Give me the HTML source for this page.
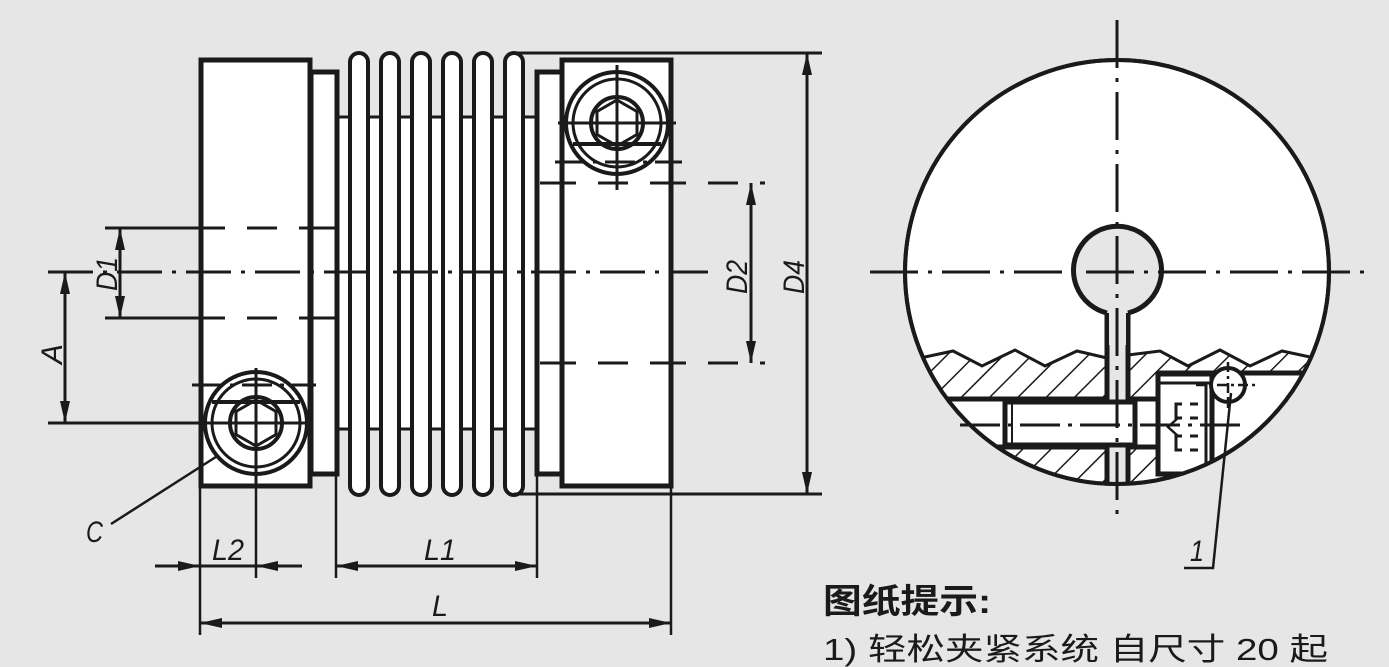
<!DOCTYPE html>
<html><head><meta charset="utf-8">
<style>
html,body{margin:0;padding:0;background:#e6e6e6;}
svg{display:block;}
text{font-family:"Liberation Sans","Noto Sans CJK SC",sans-serif;fill:#1a1a1a;}
</style></head>
<body>
<svg width="1389" height="667" viewBox="0 0 1389 667" xmlns="http://www.w3.org/2000/svg">
<defs>
<marker id="ar" viewBox="0 0 22 10" refX="22" refY="5" markerWidth="22" markerHeight="10" markerUnits="userSpaceOnUse" orient="auto">
<path d="M0,0 L22,5 L0,10 z" fill="#1a1a1a"/>
</marker>
<pattern id="hatch" patternUnits="userSpaceOnUse" width="20" height="20" patternTransform="rotate(45)">
<rect width="20" height="20" fill="#fff"/>
<line x1="0" y1="0" x2="0" y2="20" stroke="#1a1a1a" stroke-width="3"/>
</pattern>
<clipPath id="cc"><circle cx="1117" cy="272" r="212"/></clipPath>
</defs>
<rect width="1389" height="667" fill="#e6e6e6"/>

<g stroke="#1a1a1a" fill="none" stroke-linecap="butt">
<rect x="337" y="116" width="200" height="314" fill="#fff" stroke="none"/>
<line x1="337" y1="117" x2="540" y2="117" stroke-width="3"/>
<line x1="337" y1="429" x2="540" y2="429" stroke-width="3"/>
<g stroke-width="4" fill="#fff">
<rect x="350" y="53" width="18" height="442" rx="9"/>
<rect x="381" y="53" width="18" height="442" rx="9"/>
<rect x="412" y="53" width="18" height="442" rx="9"/>
<rect x="443" y="53" width="18" height="442" rx="9"/>
<rect x="474" y="53" width="18" height="442" rx="9"/>
<rect x="505" y="53" width="18" height="442" rx="9"/>
</g>
<rect x="311" y="72" width="26" height="402" fill="#fff" stroke-width="5"/>
<rect x="537" y="72" width="25" height="402" fill="#fff" stroke-width="5"/>
<rect x="201" y="60" width="109" height="426" fill="#fff" stroke-width="5"/>
<rect x="562" y="60" width="109" height="426" fill="#fff" stroke-width="5"/>

<line x1="514" y1="53" x2="822" y2="53" stroke-width="3"/>
<line x1="514" y1="494" x2="822" y2="494" stroke-width="3"/>

<line x1="48" y1="272" x2="708" y2="272" stroke-width="3" stroke-dasharray="45,10,4,10"/>
<line x1="105" y1="228" x2="337" y2="228" stroke-width="3" stroke-dasharray="120,22,30,22"/>
<line x1="105" y1="318" x2="337" y2="318" stroke-width="3" stroke-dasharray="120,22,30,22"/>
<line x1="540" y1="183" x2="765" y2="183" stroke-width="3" stroke-dasharray="36,22,30,22"/>
<line x1="540" y1="363" x2="765" y2="363" stroke-width="3" stroke-dasharray="36,22,30,22"/>
<line x1="48" y1="423" x2="311" y2="423" stroke-width="3"/>

<line x1="120" y1="270" x2="120" y2="228" stroke-width="3" marker-end="url(#ar)"/>
<line x1="120" y1="270" x2="120" y2="318" stroke-width="3" marker-end="url(#ar)"/>
<line x1="65" y1="340" x2="65" y2="272" stroke-width="3" marker-end="url(#ar)"/>
<line x1="65" y1="340" x2="65" y2="423" stroke-width="3" marker-end="url(#ar)"/>
<line x1="751" y1="270" x2="751" y2="183" stroke-width="3" marker-end="url(#ar)"/>
<line x1="751" y1="270" x2="751" y2="363" stroke-width="3" marker-end="url(#ar)"/>
<line x1="807" y1="270" x2="807" y2="53" stroke-width="3" marker-end="url(#ar)"/>
<line x1="807" y1="270" x2="807" y2="494" stroke-width="3" marker-end="url(#ar)"/>

<line x1="200" y1="486" x2="200" y2="635" stroke-width="2.5"/>
<line x1="256" y1="370" x2="256" y2="578" stroke-width="2.5"/>
<line x1="336" y1="474" x2="336" y2="578" stroke-width="2.5"/>
<line x1="537" y1="474" x2="537" y2="578" stroke-width="2.5"/>
<line x1="671" y1="486" x2="671" y2="635" stroke-width="2.5"/>
<line x1="155" y1="566" x2="200" y2="566" stroke-width="3" marker-end="url(#ar)"/>
<line x1="302" y1="566" x2="256" y2="566" stroke-width="3" marker-end="url(#ar)"/>
<line x1="200" y1="566" x2="256" y2="566" stroke-width="3"/>
<line x1="436" y1="566" x2="336" y2="566" stroke-width="3" marker-end="url(#ar)"/>
<line x1="436" y1="566" x2="537" y2="566" stroke-width="3" marker-end="url(#ar)"/>
<line x1="436" y1="623" x2="200" y2="623" stroke-width="3" marker-end="url(#ar)"/>
<line x1="436" y1="623" x2="671" y2="623" stroke-width="3" marker-end="url(#ar)"/>
<line x1="111" y1="524" x2="233" y2="446" stroke-width="2.5"/>

<circle cx="256" cy="423" r="51" stroke-width="4" fill="#fff"/>
<circle cx="256" cy="423" r="44" stroke-width="3"/>
<line x1="212" y1="402" x2="300" y2="402" stroke-width="4"/>
<line x1="192" y1="385" x2="316" y2="385" stroke-width="3" stroke-dasharray="30,8,4,8"/>
<circle cx="256" cy="423" r="26" stroke-width="4"/>
<polygon points="256,400 276,411.5 276,434.5 256,446 236,434.5 236,411.5" stroke-width="3"/>
<line x1="192" y1="423" x2="310" y2="423" stroke-width="3"/>
<line x1="256" y1="368" x2="256" y2="486" stroke-width="3"/>

<circle cx="617" cy="123" r="51" stroke-width="4" fill="#fff"/>
<circle cx="617" cy="123" r="44" stroke-width="3"/>
<line x1="573" y1="144" x2="661" y2="144" stroke-width="4"/>
<line x1="555" y1="162" x2="682" y2="162" stroke-width="3" stroke-dasharray="30,8,4,8"/>
<circle cx="617" cy="123" r="26" stroke-width="4"/>
<polygon points="617,100 637,111.5 637,134.5 617,146 597,134.5 597,111.5" stroke-width="3"/>
<line x1="558" y1="123" x2="676" y2="123" stroke-width="3"/>
<line x1="617" y1="65" x2="617" y2="190" stroke-width="3"/>
</g>

<g font-style="italic" font-size="30">
<text x="86" y="542" textLength="17" lengthAdjust="spacingAndGlyphs">C</text>
<text x="212" y="560" textLength="32" lengthAdjust="spacingAndGlyphs">L2</text>
<text x="424" y="560" textLength="32" lengthAdjust="spacingAndGlyphs">L1</text>
<text x="432" y="616" textLength="16" lengthAdjust="spacingAndGlyphs">L</text>
<text transform="translate(117,291) rotate(-90)" textLength="34" lengthAdjust="spacingAndGlyphs">D1</text>
<text transform="translate(62,364) rotate(-90)" textLength="20" lengthAdjust="spacingAndGlyphs">A</text>
<text transform="translate(747,294) rotate(-90)" textLength="34" lengthAdjust="spacingAndGlyphs">D2</text>
<text transform="translate(804,294) rotate(-90)" textLength="34" lengthAdjust="spacingAndGlyphs">D4</text>
<text x="1190" y="561" textLength="14" lengthAdjust="spacingAndGlyphs">1</text>
</g>

<g stroke="#1a1a1a" fill="none">
<circle cx="1117" cy="272" r="212" fill="#fff" stroke-width="4"/>
<g clip-path="url(#cc)">
<polygon points="900,360 925,357 953,351 982,366 1015,350 1045,366 1077,351 1107,358 1107,398 900,398" fill="url(#hatch)" stroke="none"/>
<polygon points="1128,355 1160,351 1188,366 1220,350 1250,366 1282,351 1310,357 1340,357 1340,373 1157,373 1157,398 1128,398" fill="url(#hatch)" stroke="none"/>
<polyline points="900,360 925,357 953,351 982,366 1015,350 1045,366 1077,351 1107,358" stroke-width="3"/>
<polyline points="1128,355 1160,351 1188,366 1220,350 1250,366 1282,351 1310,357 1340,357" stroke-width="3"/>
<rect x="900" y="448" width="207" height="60" fill="url(#hatch)" stroke="none"/>
<rect x="1128" y="448" width="29" height="60" fill="url(#hatch)" stroke="none"/>
<rect x="945" y="400" width="212" height="47" fill="#fff" stroke="none"/>
<line x1="900" y1="399" x2="1157" y2="399" stroke-width="5"/>
<line x1="900" y1="447" x2="1157" y2="447" stroke-width="5"/>
<line x1="1157" y1="373" x2="1340" y2="373" stroke-width="5"/>
<rect x="1107" y="340" width="21" height="180" fill="#e6e6e6" stroke="none"/>
<line x1="1107" y1="310" x2="1107" y2="490" stroke-width="5"/>
<line x1="1128" y1="310" x2="1128" y2="490" stroke-width="5"/>
<rect x="1005" y="402" width="130" height="43" fill="#fff" stroke-width="5"/>
<line x1="1012" y1="402" x2="1012" y2="445" stroke-width="2"/>
<rect x="1158" y="374" width="54" height="100" fill="#fff" stroke-width="5"/>
<line x1="1158" y1="383" x2="1212" y2="383" stroke-width="3"/>
<line x1="1206" y1="383" x2="1206" y2="474" stroke-width="3"/>
<path d="M1182,404 h-6 v14 h6 M1190,404 h8 M1190,418 h8 M1182,436 h-6 v14 h6 M1190,436 h8 M1190,450 h8" stroke-width="3"/>
<path d="M1178,418 l-10,9 l10,9" stroke-width="2.5"/>
</g>
<circle cx="1117" cy="272" r="212" stroke-width="4"/>
<path d="M1107,313 A44,44 0 1 1 1128,313" fill="#e6e6e6" stroke-width="5"/>
<rect x="1109" y="305" width="17" height="40" fill="#e6e6e6" stroke="none"/>
<circle cx="1228" cy="385" r="17" fill="#fff" stroke-width="4"/>
<line x1="1196" y1="385" x2="1256" y2="385" stroke-width="2.5" stroke-dasharray="10,4,3,4"/>
<line x1="1228" y1="362" x2="1228" y2="408" stroke-width="2.5" stroke-dasharray="10,4,3,4"/>
<line x1="870" y1="272" x2="1365" y2="272" stroke-width="3" stroke-dasharray="48,10,4,10"/>
<line x1="1117" y1="20" x2="1117" y2="520" stroke-width="3" stroke-dasharray="48,10,4,10"/>
<line x1="960" y1="425" x2="1240" y2="425" stroke-width="3" stroke-dasharray="40,8,4,8"/>
<polyline points="1231,393 1213,568 1184,568" stroke-width="2.5"/>
</g>

<text x="823" y="613" font-size="34" font-weight="bold" textLength="168" lengthAdjust="spacingAndGlyphs">图纸提示:</text>
<text x="823" y="660" font-size="31" textLength="505" lengthAdjust="spacingAndGlyphs">1) 轻松夹紧系统 自尺寸 20 起</text>
</svg>
</body></html>
